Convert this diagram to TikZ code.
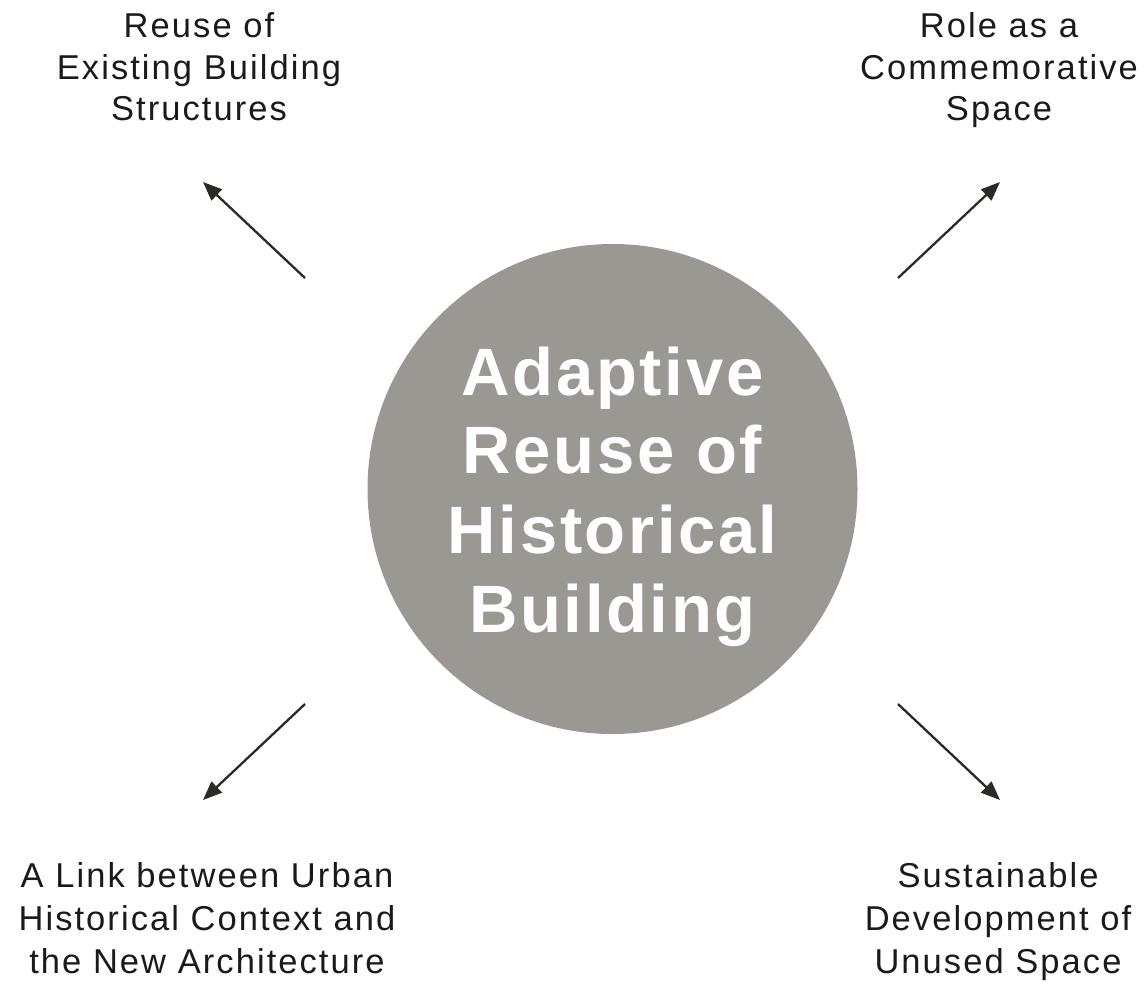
\documentclass[tikz,border=0pt]{standalone}
\usepackage{fontspec}
\usetikzlibrary{arrows.meta}
\newfontfamily\labelfont[LetterSpace=6]{Liberation Sans}
\newfontfamily\titlefont[LetterSpace=4]{Liberation Sans}
\definecolor{circgray}{HTML}{9B9893}
\definecolor{ink}{HTML}{1A1A1A}
\definecolor{arrowink}{HTML}{2A2A27}
\tikzset{
  lbl/.style={anchor=base, inner sep=0pt, text=ink, font=\labelfont\fontsize{34.5}{42}\selectfont},
  ttl/.style={anchor=base, inner sep=0pt, text=white, font=\titlefont\bfseries\fontsize{67}{79}\selectfont},
  conn/.style={draw=arrowink, line width=2.3pt, -{Triangle[length=19pt,width=15pt]}},
  hub/.style={circle, fill=circgray, minimum size=490pt, inner sep=0pt}
}
\begin{document}
\begin{tikzpicture}[x=1pt,y=-1pt]
\useasboundingbox (0,0) rectangle (1148,983);
\node[hub] (hub) at (612.5,489) {};
\node[ttl] (t1) at (612.5,395) {Adaptive};
\node[ttl] (t2) at (612.5,473) {Reuse of};
\node[ttl] (t3) at (612.5,553) {Historical};
\node[ttl] (t4) at (612.5,632) {Building};
% top-left
\node[lbl] (a1) at (199,37) {Reuse of};
\node[lbl] (a2) at (199,79) {Existing Building};
\node[lbl] (a3) at (199,120) {Structures};
% top-right
\node[lbl] (b1) at (999,37) {Role as a};
\node[lbl] (b2) at (999,79) {Commemorative};
\node[lbl] (b3) at (999,120) {Space};
% bottom-left
\node[lbl] (c1) at (207,887) {A Link between Urban};
\node[lbl] (c2) at (207,930) {Historical Context and};
\node[lbl] (c3) at (207,973) {the New Architecture};
% bottom-right
\node[lbl] (d1) at (998,887) {Sustainable};
\node[lbl] (d2) at (998,930) {Development of};
\node[lbl] (d3) at (998,973) {Unused Space};
% arrows
\coordinate (tlS) at (305,278); \coordinate (tlE) at (203,182);
\coordinate (trS) at (898,278); \coordinate (trE) at (1000,182);
\coordinate (blS) at (305,704); \coordinate (blE) at (203,800);
\coordinate (brS) at (898,704); \coordinate (brE) at (1000,800);
\draw[conn] (tlS) -- (tlE);
\draw[conn] (trS) -- (trE);
\draw[conn] (blS) -- (blE);
\draw[conn] (brS) -- (brE);
\end{tikzpicture}
\end{document}
